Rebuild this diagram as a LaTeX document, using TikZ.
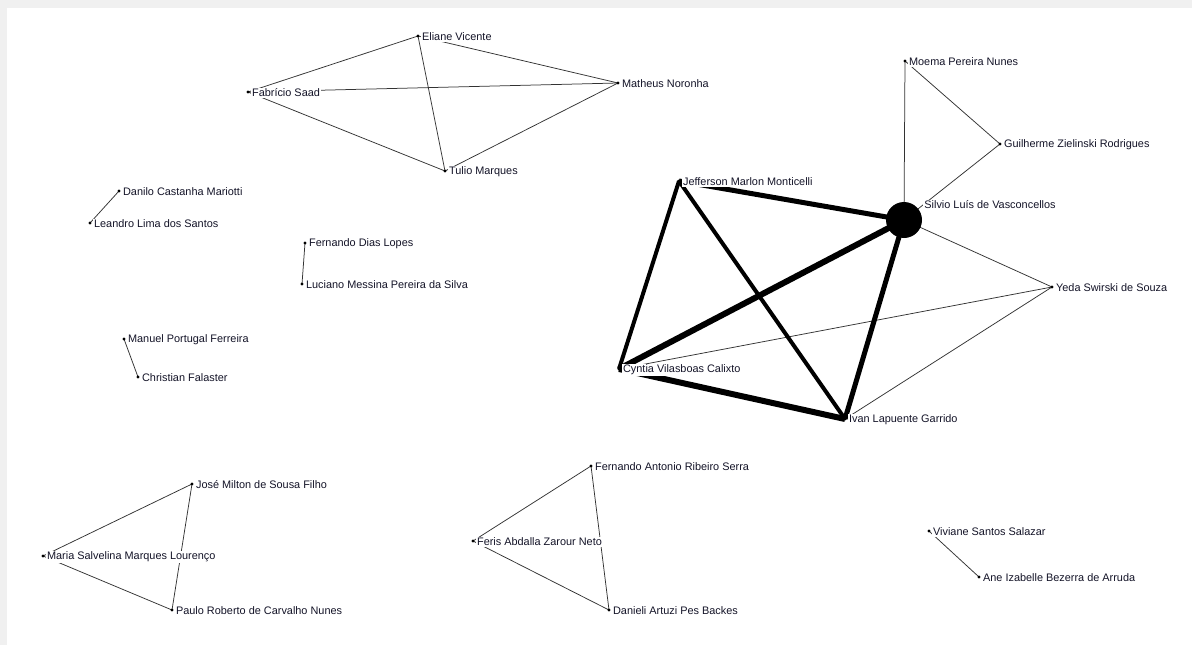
\documentclass[tikz,border=0pt]{standalone}
\usepackage{fontspec}
\setmainfont{Liberation Sans}
\usetikzlibrary{backgrounds}
\definecolor{framegray}{HTML}{F0F0F0}
\definecolor{txt}{HTML}{141428}
\newcommand{\lblfont}{\fontsize{10.9}{12}\selectfont}
\tikzset{
  dot/.style={circle, fill=black, inner sep=0pt, minimum size=3.4pt},
  bigdot/.style={circle, fill=black, inner sep=0pt, minimum size=36pt},
  lbl/.style={fill=white, inner sep=1pt, font=\lblfont, text=txt},
  thin/.style={line width=0.75pt, draw=black!80},
  w4/.style={line width=4pt, draw=black},
  w5/.style={line width=5pt, draw=black},
  w6/.style={line width=6pt, draw=black},
}
\begin{document}
\begin{tikzpicture}[x=1pt, y=-1pt, label distance=1pt, every label/.style={lbl, yshift=-1pt}]
\useasboundingbox (0,0) rectangle (1192,645);
% group 1
\node[dot, label={right:Eliane Vicente}] (eliane) at (418,36) {};
\node[dot, label={right:Matheus Noronha}] (matheus) at (618,83) {};
\node[dot, label={right:Fabrício Saad}] (fabricio) at (248,92) {};
\node[dot, label={right:Tulio Marques}] (tulio) at (445,171) {};
% group 2
\node[dot, label={right:Moema Pereira Nunes}] (moema) at (905,61) {};
\node[dot, label={right:Guilherme Zielinski Rodrigues}] (guilherme) at (1000,144) {};
\node[bigdot, label={[yshift=16pt]right:Silvio Luís de Vasconcellos}] (silvio) at (904,220) {};
\node[dot, label={right:Jefferson Marlon Monticelli}] (jefferson) at (679,181) {};
\node[dot, label={right:Yeda Swirski de Souza}] (yeda) at (1052,287) {};
\node[dot, label={right:Cyntia Vilasboas Calixto}] (cyntia) at (619,369) {};
\node[dot, label={right:Ivan Lapuente Garrido}] (ivan) at (845,419) {};
% pairs
\node[dot, label={right:Danilo Castanha Mariotti}] (danilo) at (119,191) {};
\node[dot, label={right:Leandro Lima dos Santos}] (leandro) at (90,223) {};
\node[dot, label={right:Fernando Dias Lopes}] (fernandod) at (305,243) {};
\node[dot, label={right:Luciano Messina Pereira da Silva}] (luciano) at (302,284) {};
\node[dot, label={right:Manuel Portugal Ferreira}] (manuel) at (124,339) {};
\node[dot, label={right:Christian Falaster}] (christian) at (138,377) {};
\node[dot, label={right:Viviane Santos Salazar}] (viviane) at (929,531) {};
\node[dot, label={right:Ane Izabelle Bezerra de Arruda}] (ane) at (979,577) {};
% triangles
\node[dot, label={right:José Milton de Sousa Filho}] (jose) at (192,484) {};
\node[dot, label={right:Maria Salvelina Marques Lourenço}] (maria) at (43,556) {};
\node[dot, label={right:Paulo Roberto de Carvalho Nunes}] (paulo) at (172,610) {};
\node[dot, label={right:Fernando Antonio Ribeiro Serra}] (fernandoa) at (591,466) {};
\node[dot, label={right:Feris Abdalla Zarour Neto}] (feris) at (473,541) {};
\node[dot, label={right:Danieli Artuzi Pes Backes}] (danieli) at (609,610) {};

\begin{scope}[on background layer]
\fill[framegray] (0,0) rectangle (1192,645);
\fill[white] (7,8) rectangle (1192,645);
% group 1
\draw[thin] (fabricio.center) -- (eliane.center);
\draw[thin] (fabricio.center) -- (matheus.center);
\draw[thin] (fabricio.center) -- (tulio.center);
\draw[thin] (eliane.center) -- (matheus.center);
\draw[thin] (eliane.center) -- (tulio.center);
\draw[thin] (tulio.center) -- (matheus.center);
% group 2
\draw[thin] (moema.center) -- (silvio.center);
\draw[thin] (moema.center) -- (guilherme.center);
\draw[thin] (guilherme.center) -- (silvio.center);
\draw[thin] (silvio.center) -- (yeda.center);
\draw[thin] (cyntia.center) -- (yeda.center);
\draw[thin] (ivan.center) -- (yeda.center);
\draw[w5] (jefferson.center) -- (silvio.center);
\draw[w6] (cyntia.center) -- (silvio.center);
\draw[w5] (ivan.center) -- (silvio.center);
\draw[w4] (jefferson.center) -- (cyntia.center);
\draw[w4] (jefferson.center) -- (ivan.center);
\draw[w6] (cyntia.center) -- (ivan.center);
% pairs
\draw[thin] (danilo.center) -- (leandro.center);
\draw[thin] (fernandod.center) -- (luciano.center);
\draw[thin] (manuel.center) -- (christian.center);
\draw[thin] (viviane.center) -- (ane.center);
% triangles
\draw[thin] (jose.center) -- (maria.center);
\draw[thin] (jose.center) -- (paulo.center);
\draw[thin] (maria.center) -- (paulo.center);
\draw[thin] (fernandoa.center) -- (feris.center);
\draw[thin] (fernandoa.center) -- (danieli.center);
\draw[thin] (feris.center) -- (danieli.center);
\end{scope}
\end{tikzpicture}
\end{document}
